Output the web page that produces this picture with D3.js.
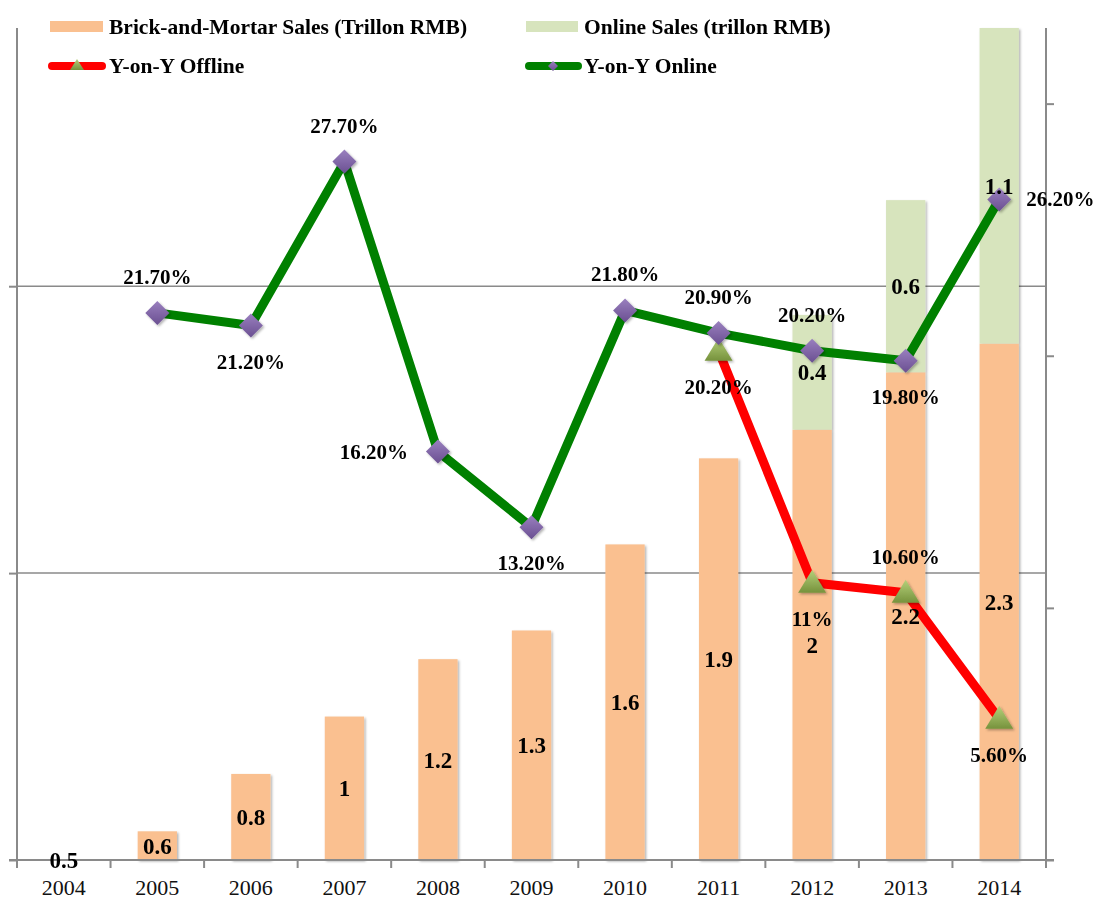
<html>
  <head>
    <meta charset="utf-8" />
    <script src="https://d3js.org/d3.v7.min.js"></script>
    <style>
      body {
        margin: 0;
        background: #fff;
      }
      text {
        font-family: "Liberation Serif", "Times New Roman", serif;
      }
    </style>
  </head>
  <body>
    <svg id="chart" width="1097" height="899"></svg>
    <script>
      // data
      var years = ["2004", "2005", "2006", "2007", "2008", "2009", "2010", "2011", "2012", "2013", "2014"];
      var brickSales = [0.5, 0.6, 0.8, 1, 1.2, 1.3, 1.6, 1.9, 2, 2.2, 2.3];
      var onlineSales = [null, null, null, null, null, null, null, null, 0.4, 0.6, 1.1];
      var yoyOnline = [null, 0.217, 0.212, 0.277, 0.162, 0.132, 0.218, 0.209, 0.202, 0.198, 0.262];
      var yoyOffline = [null, null, null, null, null, null, null, 0.202, 0.11, 0.106, 0.056];
      // where each percent label sits relative to its point
      var onlinePos = [null, "up", "down", "up", "left", "down", "up", "up", "up", "down", "right"];
      var offlinePos = [null, null, null, null, null, null, null, "down", "down", "up", "down"];

      var svg = d3.select("#chart");
      var defs = svg.append("defs");

      var shadow = defs.append("filter").attr("id", "shadow")
        .attr("x", "-20%").attr("y", "-20%").attr("width", "150%").attr("height", "150%");
      shadow.append("feDropShadow").attr("dx", 1.5).attr("dy", 1.5)
        .attr("stdDeviation", 1.2).attr("flood-color", "#000").attr("flood-opacity", 0.3);

      var gDia = defs.append("linearGradient").attr("id", "dia").attr("x1", 0).attr("y1", 0).attr("x2", 0).attr("y2", 1);
      gDia.append("stop").attr("offset", "0%").attr("stop-color", "#9a80bf");
      gDia.append("stop").attr("offset", "100%").attr("stop-color", "#6a4f91");
      var gTri = defs.append("linearGradient").attr("id", "tri").attr("x1", 0).attr("y1", 0).attr("x2", 0).attr("y2", 1);
      gTri.append("stop").attr("offset", "0%").attr("stop-color", "#b5d07a");
      gTri.append("stop").attr("offset", "100%").attr("stop-color", "#76923c");

      var plotLeft = 17, plotRight = 1046, plotTop = 28, plotBottom = 860;

      var x = d3.scaleBand().domain(years).range([plotLeft, plotRight]).paddingInner(0.58).paddingOuter(0.29);
      var step = x.step();
      var cx = (d) => x(d) + x.bandwidth() / 2;

      var y = d3.scaleLinear().domain([0.5, 3.4]).range([plotBottom, plotTop]);
      var y2 = d3.scaleLinear().domain([0, 0.33]).range([plotBottom, plotTop]);

      var axisColor = "#8a8a8a";

      // gridlines
      svg.append("g").selectAll("line").data([1.5, 2.5]).join("line")
        .attr("x1", plotLeft).attr("x2", plotRight)
        .attr("y1", (d) => y(d)).attr("y2", (d) => y(d))
        .attr("stroke", axisColor).attr("stroke-width", 1.5);

      // left axis, no labels
      var yAxis = svg.append("g").attr("transform", "translate(" + plotLeft + ",0)")
        .call(d3.axisLeft(y).tickValues([0.5, 1.5, 2.5]).tickSize(8).tickFormat(""));
      yAxis.selectAll("path, line").attr("stroke", axisColor).attr("stroke-width", 2);
      yAxis.select(".domain").attr("d", "M0," + plotTop + "V" + plotBottom);

      // right axis, no labels
      var y2Axis = svg.append("g").attr("transform", "translate(" + plotRight + ",0)")
        .call(d3.axisRight(y2).tickValues([0, 0.1, 0.2, 0.3]).tickSize(8).tickFormat(""));
      y2Axis.selectAll("path, line").attr("stroke", axisColor).attr("stroke-width", 2);
      y2Axis.select(".domain").attr("d", "M0," + plotTop + "V" + plotBottom);

      // bars
      var bars = svg.append("g").attr("filter", "url(#shadow)");
      bars.selectAll("rect.brick").data(years).join("rect")
        .attr("class", "brick")
        .attr("x", (d) => x(d)).attr("width", x.bandwidth())
        .attr("y", (d, i) => y(brickSales[i]))
        .attr("height", (d, i) => y(0.5) - y(brickSales[i]))
        .attr("fill", "#fac090");
      bars.selectAll("rect.online").data(years.filter((d, i) => onlineSales[i] != null)).join("rect")
        .attr("class", "online")
        .attr("x", (d) => x(d)).attr("width", x.bandwidth())
        .attr("y", (d) => { var i = years.indexOf(d); return y(brickSales[i] + onlineSales[i]); })
        .attr("height", (d) => { var i = years.indexOf(d); return y(brickSales[i]) - y(brickSales[i] + onlineSales[i]); })
        .attr("fill", "#d7e4bd");

      // x axis
      var xAxis = svg.append("g").attr("transform", "translate(0," + plotBottom + ")");
      xAxis.append("line").attr("x1", plotLeft - 8).attr("x2", plotRight + 8)
        .attr("stroke", axisColor).attr("stroke-width", 2);
      xAxis.selectAll("line.tick").data(d3.range(years.length + 1)).join("line")
        .attr("class", "tick")
        .attr("x1", (d) => plotLeft + d * step).attr("x2", (d) => plotLeft + d * step)
        .attr("y1", 0).attr("y2", 8)
        .attr("stroke", axisColor).attr("stroke-width", 2);
      xAxis.selectAll("text").data(years).join("text")
        .attr("x", (d) => cx(d)).attr("y", 35)
        .attr("text-anchor", "middle")
        .attr("font-size", 22)
        .attr("fill", "#111")
        .text((d) => d);

      // lines
      var onlinePts = years.map((d, i) => ({ year: d, v: yoyOnline[i], pos: onlinePos[i] })).filter((p) => p.v != null);
      var offlinePts = years.map((d, i) => ({ year: d, v: yoyOffline[i], pos: offlinePos[i] })).filter((p) => p.v != null);
      var line = d3.line().x((p) => cx(p.year)).y((p) => y2(p.v));

      svg.append("path").datum(offlinePts).attr("d", line)
        .attr("fill", "none").attr("stroke", "#ff0000").attr("stroke-width", 9).attr("stroke-linejoin", "round");
      svg.append("path").datum(onlinePts).attr("d", line)
        .attr("fill", "none").attr("stroke", "#008000").attr("stroke-width", 9).attr("stroke-linejoin", "round");

      var triPath = "M0,-13L14,10L-14,10Z";
      var diaPath = "M0,-12L12,0L0,12L-12,0Z";

      svg.append("g").attr("filter", "url(#shadow)").selectAll("path").data(offlinePts).join("path")
        .attr("d", triPath)
        .attr("transform", (p) => "translate(" + cx(p.year) + "," + y2(p.v) + ")")
        .attr("fill", "url(#tri)");
      svg.append("g").attr("filter", "url(#shadow)").selectAll("path").data(onlinePts).join("path")
        .attr("d", diaPath)
        .attr("transform", (p) => "translate(" + cx(p.year) + "," + y2(p.v) + ")")
        .attr("fill", "url(#dia)");

      // bar value labels
      var fmtNum = (v) => String(v);
      svg.append("g").selectAll("text").data(years).join("text")
        .attr("x", (d) => cx(d))
        .attr("y", (d, i) => (y(brickSales[i]) + y(0.5)) / 2 + 8)
        .attr("text-anchor", "middle")
        .attr("font-size", 23).attr("font-weight", "bold").attr("fill", "#000")
        .text((d, i) => fmtNum(brickSales[i]));
      svg.append("g").selectAll("text").data(years.filter((d, i) => onlineSales[i] != null)).join("text")
        .attr("x", (d) => cx(d))
        .attr("y", (d) => { var i = years.indexOf(d); return (y(brickSales[i]) + y(brickSales[i] + onlineSales[i])) / 2 + 8; })
        .attr("text-anchor", "middle")
        .attr("font-size", 23).attr("font-weight", "bold").attr("fill", "#000")
        .text((d) => fmtNum(onlineSales[years.indexOf(d)]));

      // percent labels
      var fmtPct = (v) => {
        var p = Math.round(v * 1000) / 10;
        return Number.isInteger(p) ? p + "%" : d3.format(".2%")(v);
      };
      function pctLabels(pts) {
        svg.append("g").selectAll("text").data(pts).join("text")
          .attr("x", (p) => cx(p.year) + (p.pos === "left" ? -30 : p.pos === "right" ? 27 : 0))
          .attr("y", (p) => y2(p.v) + (p.pos === "up" ? -36 : p.pos === "down" ? 36 : 0) + 7)
          .attr("text-anchor", (p) => (p.pos === "left" ? "end" : p.pos === "right" ? "start" : "middle"))
          .attr("font-size", 21).attr("font-weight", "bold").attr("fill", "#000")
          .text((p) => fmtPct(p.v));
      }
      pctLabels(onlinePts);
      pctLabels(offlinePts);

      // legend
      var legend = svg.append("g").attr("font-size", 21.5).attr("font-weight", "bold");
      legend.append("rect").attr("x", 50).attr("y", 21).attr("width", 53).attr("height", 11).attr("fill", "#fac090");
      legend.append("text").attr("x", 109).attr("y", 34).text("Brick-and-Mortar Sales (Trillon RMB)");
      legend.append("rect").attr("x", 526).attr("y", 21).attr("width", 52).attr("height", 11).attr("fill", "#d7e4bd");
      legend.append("text").attr("x", 584).attr("y", 34).text("Online Sales (trillon RMB)");

      legend.append("line").attr("x1", 52).attr("x2", 102).attr("y1", 66).attr("y2", 66)
        .attr("stroke", "#ff0000").attr("stroke-width", 8).attr("stroke-linecap", "round");
      legend.append("path").attr("d", "M0,-6L7,5L-7,5Z").attr("transform", "translate(77,65)").attr("fill", "url(#tri)");
      legend.append("text").attr("x", 109).attr("y", 73).text("Y-on-Y Offline");
      legend.append("line").attr("x1", 529).attr("x2", 578).attr("y1", 66).attr("y2", 66)
        .attr("stroke", "#008000").attr("stroke-width", 8).attr("stroke-linecap", "round");
      legend.append("path").attr("d", "M0,-5L5,0L0,5L-5,0Z").attr("transform", "translate(553,66)").attr("fill", "url(#dia)");
      legend.append("text").attr("x", 584).attr("y", 73).text("Y-on-Y Online");
    </script>
  </body>
</html>
